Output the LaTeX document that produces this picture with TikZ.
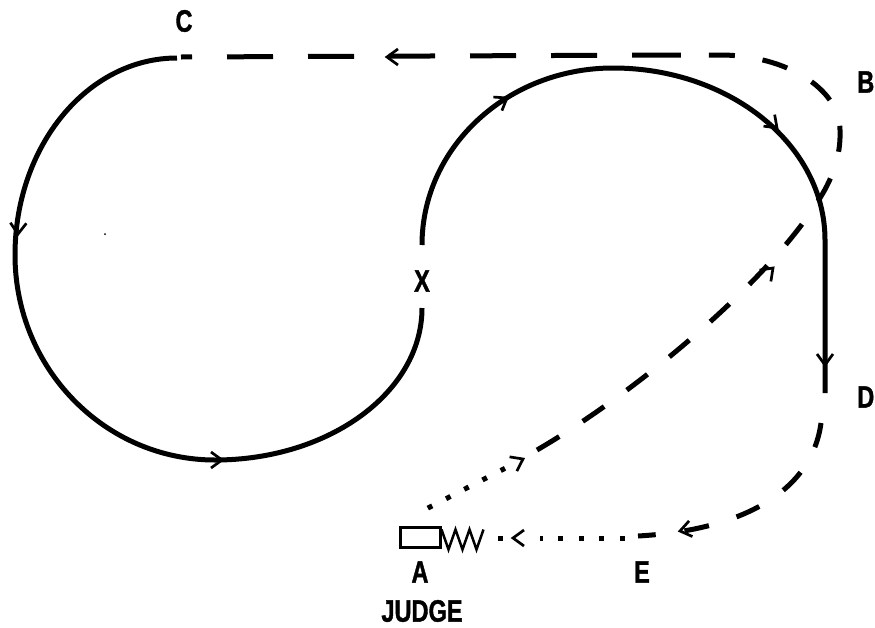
\documentclass[tikz,border=0pt]{standalone}
\usepackage{fontspec}
\newfontfamily\labfont{Liberation Sans Bold}[FakeStretch=0.76, FakeBold=1.2]
\begin{document}
\begin{tikzpicture}[x=1pt,y=-1pt,
  track/.style={line width=5pt, line cap=butt},
  dashlong/.style={line width=5pt, dash pattern=on 46pt off 35pt},
  dashshort/.style={line width=5pt, dash pattern=on 26pt off 28pt},
  dashcurve/.style={line width=5pt, dash pattern=on 25pt off 29pt},
  dotline/.style={line width=5pt, dash pattern=on 5pt off 15.5pt},
  zig/.style={line width=2.5pt, line join=miter},
  lab/.style={font=\labfont\fontsize{31}{31}\selectfont, inner sep=0pt},
  chev/.pic={\draw[line width=2.7pt, line join=miter] (-11,8) -- (0,0) -- (-11,-8);}
]
\useasboundingbox (0,0) rectangle (875,627);

% labels
\node[lab] (C) at (184,21) {C};
\node[lab, anchor=east] (B) at (874.5,82) {B};
\node[lab] (X) at (422,281) {X};
\node[lab, anchor=east] (D) at (874.5,397) {D};
\node[lab] (E) at (642,572) {E};
\node[lab] (A) at (420,572) {A};
\node[lab] (J) at (422,611) {JUDGE};

% judge box and zigzag
\node[draw, line width=3pt, minimum width=40pt, minimum height=20pt, inner sep=0pt, outer sep=0pt] (judge) at (420.5,537.5) {};
\draw[zig] (judge.north east) ++(1,2) -- ++(7,20) -- ++(7,-20) -- ++(7,20) -- ++(7,-20) -- ++(7,20) -- ++(7,-20);

% solid track
\draw[track] (177,58) .. controls (87.5,58) and (15,146) .. (15,255)
  .. controls (15,368) and (104.5,460) .. (215,460)
  .. controls (329.3,460) and (422,392) .. (422,308);
\draw[track] (422,245) .. controls (422,147.2) and (507.5,68) .. (613,68)
  .. controls (730,68) and (825,145) .. (825,240) -- (825,393);

% dashed routes
\draw[dashshort] (537,450) .. controls (640,390) and (770,280) .. (820,198)
  .. controls (833,177) and (841,155) .. (840,130)
  .. controls (840,89) and (786,55) .. (720,55) -- (678,55);
\draw[dashlong] (678,55) -- (181,57);
\draw[dashcurve] (821,423) .. controls (812,490) and (745,530) .. (638,536);

% dotted routes
\draw[dotline] (624.5,538) -- (539.5,538);
\draw[dotline] (502.5,538) -- (497.5,538);
\draw[dotline] (427.8,508.1) -- (505.0,468.3);

% arrowheads
\pic[rotate=-92] at (18,234) {chev};
\pic at (222,460) {chev};
\pic[rotate=32] at (507,98) {chev};
\pic[rotate=-44] at (777,128) {chev};
\pic[rotate=-90] at (825,365) {chev};
\pic[rotate=180] at (387,57) {chev};
\pic[rotate=45] at (773,268) {chev};
\pic[rotate=27] at (523,459) {chev};
\pic[rotate=192] at (680,531) {chev};
\pic[rotate=180] at (513,538) {chev};

% speck
\fill (105,234) circle (1pt);
\end{tikzpicture}
\end{document}
